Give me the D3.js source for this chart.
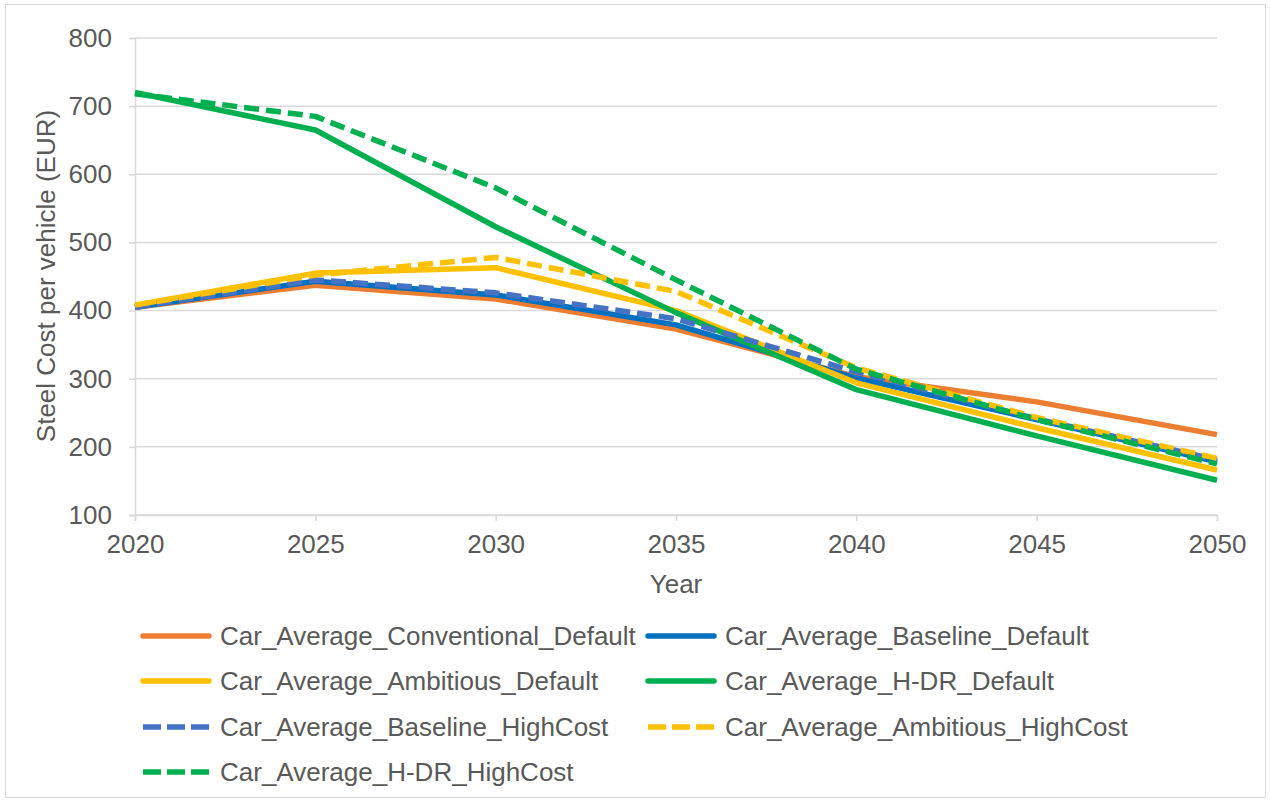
<!DOCTYPE html>
<html><head><meta charset="utf-8">
<script src="https://cdn.jsdelivr.net/npm/d3@7"></script>
<style>body{margin:0;background:#fff;font-family:"Liberation Sans",Arial,sans-serif;}</style>
</head><body><svg id="c" width="1271" height="803"></svg>
<script>
const years = [2020, 2025, 2030, 2035, 2040, 2045, 2050];
const yTicks = [100, 200, 300, 400, 500, 600, 700, 800];
const conventionalDefault = [405, 437, 417, 373, 303, 266, 218];
const baselineDefault = [405, 443, 423, 379, 301, 240, 178];
const ambitiousDefault = [408, 455, 463, 400, 294, 228, 166];
const hdrDefault = [720, 665, 523, 397, 284, 216, 151];
const baselineHighCost = [405, 445, 426, 388, 310, 241, 181];
const ambitiousHighCost = [408, 452, 478, 428, 316, 243, 183];
const hdrHighCost = [718, 685, 580, 445, 314, 240, 175];

const seriesNames = ["Car_Average_Conventional_Default","Car_Average_Baseline_Default","Car_Average_Ambitious_Default","Car_Average_H-DR_Default","Car_Average_Baseline_HighCost","Car_Average_Ambitious_HighCost","Car_Average_H-DR_HighCost"];
const seriesValues = [conventionalDefault, baselineDefault, ambitiousDefault, hdrDefault, baselineHighCost, ambitiousHighCost, hdrHighCost];
const seriesColors = ["#ED7D31","#0070C0","#FFC000","#00B050","#4472C4","#FFC000","#00B050"];
const seriesDashed = [false,false,false,false,true,true,true];

const FS = "26px";
const svg = d3.select("#c");
svg.append("rect").attr("x",5.5).attr("y",4.5).attr("width",1260).attr("height",793).attr("fill","#fff").attr("stroke","#d9d9d9");

const L=135, R=1217, T=38, B=515;
const x = d3.scaleLinear().domain([2020,2050]).range([L,R]);
const y = d3.scaleLinear().domain([100,800]).range([B,T]);
const txt = "#595959";

// gridlines
svg.append("g").selectAll("line").data(yTicks).join("line")
  .attr("x1",L).attr("x2",R).attr("y1",d=>y(d)).attr("y2",d=>y(d))
  .attr("stroke","#d9d9d9").attr("stroke-width",1.5);

// y axis
const ya = svg.append("g").attr("transform",`translate(${L},0)`)
  .call(d3.axisLeft(y).tickValues(yTicks).tickSize(6).tickPadding(17).tickFormat(d3.format("d")));
ya.select(".domain").attr("stroke","#d9d9d9").attr("stroke-width",1.5);
ya.selectAll(".tick line").attr("stroke","#d9d9d9").attr("stroke-width",1.5);
ya.selectAll("text").attr("fill",txt).style("font-size",FS).style("font-family","Liberation Sans, Arial, sans-serif");

// x axis
const xa = svg.append("g").attr("transform",`translate(0,${B})`)
  .call(d3.axisBottom(x).tickValues(years).tickSize(6).tickPadding(14).tickFormat(d3.format("d")));
xa.select(".domain").attr("stroke","#d9d9d9").attr("stroke-width",1.5);
xa.selectAll(".tick line").attr("stroke","#d9d9d9").attr("stroke-width",1.5);
xa.selectAll("text").attr("fill",txt).style("font-size",FS).style("font-family","Liberation Sans, Arial, sans-serif");

// titles
svg.append("text").attr("x",676).attr("y",593).attr("text-anchor","middle").attr("fill",txt)
  .style("font-size",FS).text("Year");
svg.append("text").attr("transform",`translate(55,276) rotate(-90)`).attr("text-anchor","middle").attr("fill",txt)
  .style("font-size",FS).text("Steel Cost per vehicle (EUR)");

// lines
const line = d3.line().x((d,i)=>x(years[i])).y(d=>y(d));
seriesValues.forEach((vals,k)=>{
  svg.append("path").attr("d",line(vals)).attr("fill","none")
    .attr("stroke",seriesColors[k]).attr("stroke-width",5.5)
    .attr("stroke-linejoin","round")
    .attr("stroke-dasharray",seriesDashed[k]?"15,7":null);
});

// legend
const legPos = [[143,636],[648,636],[143,681],[648,681],[143,727],[648,727],[143,772]];
seriesNames.forEach((n,k)=>{
  const [lx,ly]=legPos[k];
  svg.append("line").attr("x1",lx).attr("x2",lx+66).attr("y1",ly).attr("y2",ly)
    .attr("stroke",seriesColors[k]).attr("stroke-width",5.5)
    .attr("stroke-linecap",seriesDashed[k]?"butt":"round")
    .attr("stroke-dasharray",seriesDashed[k]?"18,6":null);
  svg.append("text").attr("x",lx+77).attr("y",ly+9).attr("fill",txt).style("font-size",FS).text(n);
});
</script></body></html>
